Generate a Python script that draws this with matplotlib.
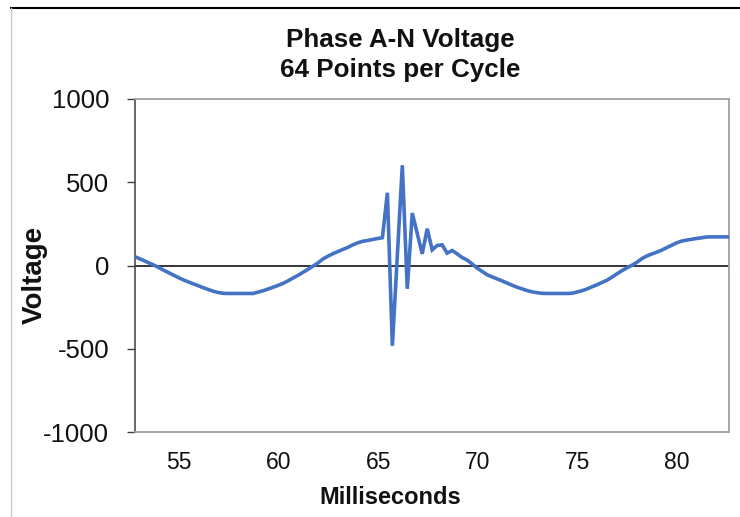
import numpy as np
import matplotlib
matplotlib.use("Agg")
import matplotlib.pyplot as plt
from matplotlib.lines import Line2D

plt.rcParams['font.family'] = ['Liberation Sans', 'DejaVu Sans']
plt.rcParams['axes.unicode_minus'] = False

# sampling: 64 points per cycle
t_start = 52.7
t_step = 0.25
voltage = [
    57, 44, 31, 17, 4, -11, -27, -42, -57, -72,
    -86, -98, -110, -121, -133, -144, -154, -162, -167, -168,
    -168, -168, -168, -168, -168, -160, -152, -142, -131, -120,
    -108, -93, -76, -60, -42, -24, -5, 14, 38, 55,
    70, 83, 96, 108, 123, 136, 145, 150, 156, 162,
    167, 437, -482, 60, 602, -140, 315, 192, 70, 221,
    94, 120, 124, 74, 90, 70, 48, 33, 10, -15,
    -35, -55, -68, -80, -92, -105, -118, -130, -140, -150,
    -158, -163, -167, -168, -168, -168, -168, -168, -167, -160,
    -152, -142, -129, -117, -103, -90, -72, -52, -33, -16,
    0, 17, 39, 56, 68, 79, 91, 106, 120, 135,
    146, 152, 157, 162, 166, 171, 172, 172, 172, 172,
    171,
]
milliseconds = t_start + t_step * np.arange(len(voltage))

x_ticks = [55, 60, 65, 70, 75, 80]
y_ticks = [-1000, -500, 0, 500, 1000]

W, H = 740, 517
fig = plt.figure(figsize=(W / 100, H / 100), dpi=100)
ax = fig.add_axes([135 / W, (H - 432) / H, (729 - 135) / W, (432 - 99) / H])

ax.plot(milliseconds, voltage, color='#4472C4', lw=2.6, solid_joinstyle='miter', zorder=3)
ax.axhline(0, color='black', lw=1.1, zorder=2)

ax.set_xlim(52.78, 82.6)
ax.set_ylim(-1000, 1000)
ax.set_xticks(x_ticks)
ax.set_yticks(y_ticks)
ax.tick_params(axis='x', length=0, pad=14, labelsize=16.5, labelcolor='#111111')
ax.tick_params(axis='y', length=6, width=1.0, pad=12.5, labelsize=18.5,
               colors='#404040', labelcolor='#111111', direction='out')

for side in ['top', 'right', 'bottom']:
    ax.spines[side].set_color('#A0A0A0')
    ax.spines[side].set_linewidth(1.3)
ax.spines['left'].set_color('#404040')
ax.spines['left'].set_linewidth(1.1)

fig.text(400 / W, 1 - 40 / H, 'Phase A-N Voltage', ha='center', va='center',
         fontsize=18.7, fontweight='bold', color='#111111')
fig.text(400 / W, 1 - 70 / H, '64 Points per Cycle', ha='center', va='center',
         fontsize=18.7, fontweight='bold', color='#111111')
fig.text(35 / W, 1 - 275 / H, 'Voltage', ha='center', va='center', rotation=90,
         fontsize=20, fontweight='bold', color='#111111')
fig.text(390 / W, 1 - 497 / H, 'Milliseconds', ha='center', va='center',
         fontsize=17, fontweight='bold', color='#111111')

# outer chart border fragments
fig.add_artist(Line2D([11 / W, 1], [1 - 8 / H, 1 - 8 / H], color='black', lw=1.5,
                      transform=fig.transFigure))
fig.add_artist(Line2D([11 / W, 11 / W], [0, 1 - 8 / H], color='#C8C8C8', lw=1.0,
                      transform=fig.transFigure))

fig.savefig('out.png', dpi=100)
